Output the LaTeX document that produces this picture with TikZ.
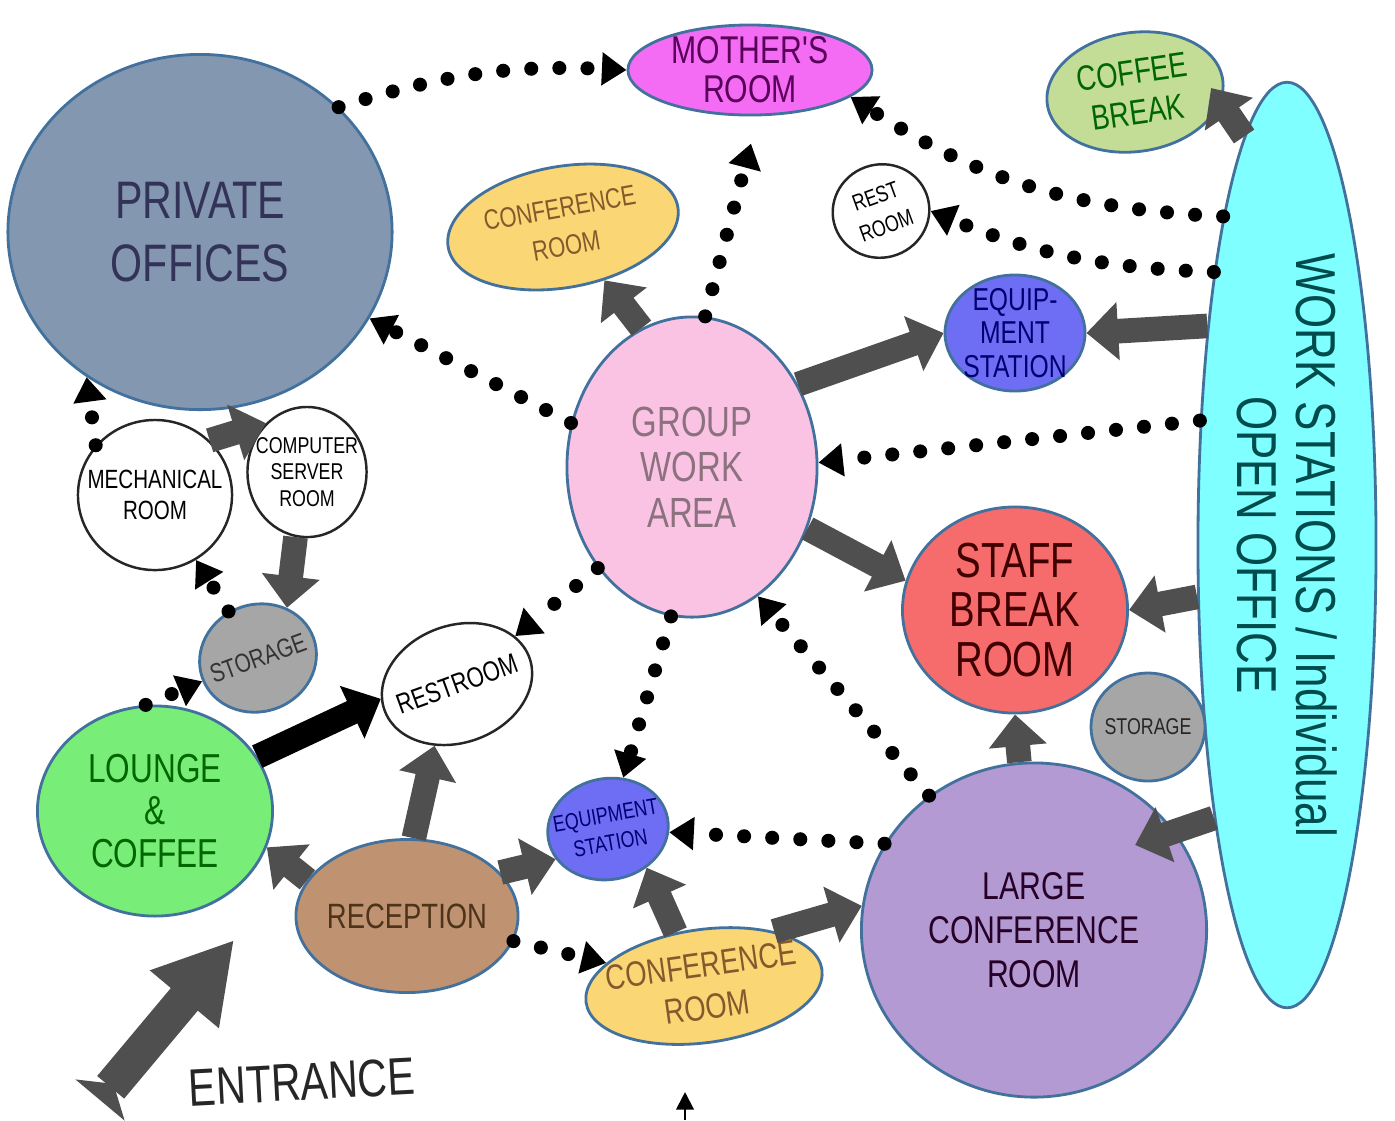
\documentclass[tikz,border=0pt]{standalone}
\usepackage{fontspec}
\newfontfamily\handfont{Liberation Sans}[FakeStretch=0.78]
\usetikzlibrary{arrows.meta,shapes.geometric}
\definecolor{edgeblue}{HTML}{41719C}
\definecolor{privfill}{HTML}{8497B0}
\definecolor{motherfill}{HTML}{F36CF3}
\definecolor{coffeefill}{HTML}{C3DD97}
\definecolor{wsfill}{HTML}{7FFFFF}
\definecolor{conffill}{HTML}{FAD675}
\definecolor{equipfill}{HTML}{6E6EF5}
\definecolor{groupfill}{HTML}{FAC3E4}
\definecolor{stafffill}{HTML}{F66B6B}
\definecolor{storfill}{HTML}{A6A6A6}
\definecolor{largefill}{HTML}{B49AD3}
\definecolor{loungefill}{HTML}{78EE78}
\definecolor{recepfill}{HTML}{BF9272}
\definecolor{fatgray}{HTML}{4F4F4F}
\begin{document}
\begin{tikzpicture}[x=0.01cm,y=0.01cm,
  letter/.style 2 args={font=\handfont\fontsize{#1}{#2}\selectfont},
  room/.style={ellipse, draw=edgeblue, line width=0.8pt, inner sep=-5pt, align=center},
  sketch/.style={ellipse, draw=black!85, line width=0.7pt, fill=white, inner sep=-5pt, align=center},
  dotlink/.style={line width=4pt, line cap=round, dash pattern=on 0pt off 8pt, -{Triangle[length=7pt,width=9pt]}},
  fatlink/.style={line width=7pt, draw=fatgray, -{Triangle[length=9pt,width=16pt]}}]
\useasboundingbox (0,0) rectangle (1395,-1120);
\node[room, fill=privfill, minimum width=3.84cm, minimum height=3.55cm, text=black!75!blue!60!gray, letter={15}{18}] (priv) at (200,-232) {PRIVATE\\OFFICES};
\node[room, fill=motherfill, minimum width=2.44cm, minimum height=0.90cm, text=violet!70!black, letter={11}{11}] (mother) at (750,-70) {MOTHER'S\\ROOM};
\node[room, fill=coffeefill, minimum width=1.77cm, minimum height=1.19cm, rotate=8, text=green!40!black, letter={10}{11.5}] (coffee) at (1135,-92) {COFFEE\\BREAK};
\node[room, fill=wsfill, minimum width=9.25cm, minimum height=1.78cm, rotate=-90, text=teal!60!black, letter={16}{17}] (ws) at (1287,-545) {WORK STATIONS / Individual\\OPEN OFFICE};
\node[room, fill=conffill, minimum width=2.33cm, minimum height=1.21cm, rotate=10, text=brown!70!black, letter={8}{11}] (confT) at (563,-227) {CONFERENCE\\ROOM};
\node[sketch, minimum width=0.97cm, minimum height=0.93cm, rotate=20, letter={6.5}{9}] (rest) at (881,-211) {REST\\ROOM};
\node[room, fill=equipfill, minimum width=1.40cm, minimum height=1.16cm, text=blue!45!black, letter={9}{9.5}] (equipT) at (1015,-333) {EQUIP-\\MENT\\STATION};
\node[room, fill=groupfill, minimum width=2.50cm, minimum height=3.00cm, text=black!55!magenta!40!gray, letter={12}{13}] (group) at (692,-467) {GROUP\\WORK\\AREA};
\node[room, fill=stafffill, minimum width=2.25cm, minimum height=2.06cm, text=red!25!black, letter={14}{14}] (staff) at (1015,-610) {STAFF\\BREAK\\ROOM};
\node[room, fill=storfill, minimum width=1.14cm, minimum height=1.08cm, text=black!85, letter={6.5}{7}] (storR) at (1148,-727) {STORAGE};
\node[room, fill=largefill, minimum width=3.45cm, minimum height=3.34cm, text=violet!30!black, letter={11}{12.5}] (large) at (1034,-930) {LARGE\\CONFERENCE\\ROOM};
\node[sketch, minimum width=1.54cm, minimum height=1.50cm, letter={7.5}{9}] (mech) at (155,-495) {MECHANICAL\\ROOM};
\node[sketch, minimum width=1.19cm, minimum height=1.30cm, letter={6.5}{7.5}] (comp) at (307,-472) {COMPUTER\\SERVER\\ROOM};
\node[room, fill=storfill, minimum width=1.18cm, minimum height=1.07cm, rotate=20, text=black!80, letter={7.5}{8}] (storL) at (258,-658) {STORAGE};
\node[sketch, minimum width=1.54cm, minimum height=1.17cm, rotate=20, letter={8}{9}] (restr) at (457,-684) {RESTROOM};
\node[room, fill=loungefill, minimum width=2.35cm, minimum height=2.10cm, text=green!40!black, letter={11.5}{12}] (lounge) at (155,-811) {LOUNGE\\\&\\COFFEE};
\node[room, fill=recepfill, minimum width=2.22cm, minimum height=1.53cm, text=brown!40!black, letter={10}{11}] (recep) at (407,-916) {RECEPTION};
\node[room, fill=equipfill, minimum width=1.21cm, minimum height=1.01cm, rotate=10, text=blue!45!black, letter={6.5}{8}] (equipB) at (608,-829) {EQUIPMENT\\STATION};
\node[room, fill=conffill, minimum width=2.38cm, minimum height=1.13cm, rotate=8, text=brown!70!black, letter={10}{12}] (confB) at (704,-986) {CONFERENCE\\ROOM};
\node[rotate=3, text=black!85, letter={15}{16}] (entrance) at (302,-1082) {ENTRANCE};
\coordinate (door) at (100,-1100);
\coordinate (doorhead) at (234,-940);
\coordinate (markfoot) at (685,-1120);
\coordinate (marktip) at (685,-1092);
\draw[dotlink] (priv.42) to[bend left=10] (mother.west);
\draw[dotlink] (ws.191) to[bend left=15] (mother.-15);
\draw[dotlink] (ws.195) to[bend left=10] (rest.-20);
\draw[dotlink, shorten >=8pt] (group.85) -- (mother.-80);
\draw[dotlink] (group.160) -- (priv.-27);
\draw[dotlink] (ws.215) -- (group.2);
\draw[dotlink] (group.227) -- (restr);
\draw[dotlink] (group.262) -- (equipB);
\draw[dotlink] (large.128) -- (group.-63);
\draw[dotlink] (large.150) -- (equipB);
\draw[dotlink] (recep) -- (confB);
\draw[dotlink] (storL) -- (mech);
\draw[dotlink] (mech.140) -- (priv.-128);
\draw[dotlink] (lounge.95) -- (storL);
\draw[fatlink] (group.110) -- (confT);
\draw[fatlink] (group.38) -- (equipT.west);
\draw[fatlink] (ws.200) -- (equipT.east);
\draw[fatlink] (group.-28) -- (staff.165);
\draw[fatlink] (ws.300) -- (staff.east);
\draw[fatlink] (large.95) -- (staff.south);
\draw[fatlink, shorten >=-12pt] (ws.345) -- (large.35);
\draw[fatlink, shorten >=-5pt] (ws.186) -- (coffee.-15);
\draw[fatlink] (confB.110) -- (equipB.-55);
\draw[fatlink] (confB.30) -- (large.172);
\draw[fatlink] (recep.25) -- (equipB.200);
\draw[fatlink] (recep.85) -- (restr.230);
\draw[fatlink] (recep.160) -- (lounge.-18);
\draw[fatlink, draw=black] (lounge.28) -- (restr.171);
\draw[fatlink] (comp.-100) -- (storL.40);
\draw[fatlink] (mech.45) -- (comp.130);
\draw[line width=10pt, draw=fatgray, {Triangle[reversed,length=6pt,width=18pt]}-{Triangle[length=22pt,width=24pt]}] (door) -- (doorhead);
\draw[line width=0.6pt, -{Triangle[length=5pt,width=5pt]}] (markfoot) -- (marktip);
\end{tikzpicture}
\end{document}
